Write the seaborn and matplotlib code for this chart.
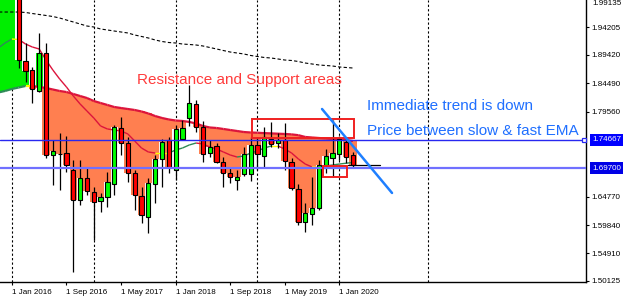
import numpy as np
import pandas as pd
import matplotlib
matplotlib.use("Agg")
import matplotlib.pyplot as plt
from matplotlib.patches import Rectangle
import seaborn as sns

# ---------------- data (monthly bars, month 0 = Jan 2016) ----------------
months = list(range(-2, 51))
open_ = [2.0700, 2.0650, 2.0500, 2.0156, 1.8835, 1.8679, 1.8314, 1.8974, 1.7202, 1.7219,
         1.7236, 1.6941, 1.6420, 1.6802, 1.6559, 1.6403, 1.6472, 1.6698, 1.7671, 1.7410,
         1.6889, 1.6489, 1.6124, 1.6698, 1.7132, 1.7462, 1.6941, 1.7480, 1.7845, 1.8088,
         1.7688, 1.7236, 1.7358, 1.7080, 1.6889, 1.6767, 1.6872, 1.6872, 1.7376, 1.7184,
         1.7480, 1.7410, 1.7462, 1.7080, 1.6611, 1.6038, 1.6177, 1.6281, 1.7028, 1.7150,
         1.7219, 1.7428, 1.7202]
high = [2.0900, 2.0800, 2.0700, 2.0329, 1.9148, 1.8731, 1.9322, 1.9148, 1.7462, 1.7584,
        1.7532, 1.7115, 1.7115, 1.6993, 1.6646, 1.6542, 1.6906, 1.7723, 1.7862, 1.7515,
        1.6941, 1.6646, 1.6802, 1.7202, 1.7480, 1.7515, 1.7723, 1.7810, 1.8418, 1.8157,
        1.7793, 1.7462, 1.7410, 1.7167, 1.6976, 1.6941, 1.7341, 1.7515, 1.7515, 1.7688,
        1.7776, 1.7584, 1.7758, 1.7150, 1.6698, 1.6368, 1.6820, 1.7115, 1.7306, 1.7810,
        1.7532, 1.7480, 1.7254]
low = [2.0400, 2.0300, 2.0000, 1.8713, 1.8470, 1.8105, 1.8296, 1.7150, 1.6680, 1.6594,
       1.6906, 1.5169, 1.6333, 1.6507, 1.5725, 1.6211, 1.6298, 1.6507, 1.7202, 1.6733,
       1.6246, 1.6020, 1.5846, 1.6368, 1.6646, 1.6889, 1.6767, 1.7462, 1.7706, 1.7601,
       1.7080, 1.7167, 1.7063, 1.6646, 1.6715, 1.6594, 1.6837, 1.6750, 1.6941, 1.6976,
       1.7341, 1.7323, 1.6941, 1.6594, 1.5985, 1.5864, 1.5985, 1.6246, 1.6889, 1.6820,
       1.7115, 1.7063, 1.6993]
close = [2.0650, 2.0500, 2.0156, 1.8852, 1.8661, 1.8349, 1.8974, 1.7202, 1.7271, 1.7211,
         1.7028, 1.6420, 1.6802, 1.6576, 1.6385, 1.6472, 1.6733, 1.7688, 1.7410, 1.6889,
         1.6507, 1.6159, 1.6715, 1.7132, 1.7428, 1.6993, 1.7654, 1.7671, 1.8105, 1.7688,
         1.7219, 1.7341, 1.7080, 1.6889, 1.6820, 1.6820, 1.7219, 1.7376, 1.7219, 1.7515,
         1.7393, 1.7462, 1.7097, 1.6628, 1.6038, 1.6194, 1.6281, 1.7028, 1.7184, 1.7236,
         1.7480, 1.7167, 1.7028]
slow_ema = [1.8288, 1.8314, 1.8349, 1.8375, 1.8401, 1.8401, 1.8383, 1.8366, 1.8340, 1.8314,
            1.8296, 1.8262, 1.8227, 1.8192, 1.8140, 1.8105, 1.8071, 1.8036, 1.8018, 1.8001,
            1.7984, 1.7958, 1.7923, 1.7879, 1.7845, 1.7819, 1.7801, 1.7793, 1.7776, 1.7749,
            1.7706, 1.7680, 1.7671, 1.7654, 1.7636, 1.7619, 1.7601, 1.7593, 1.7588, 1.7582,
            1.7577, 1.7572, 1.7567, 1.7560, 1.7546, 1.7515, 1.7506, 1.7497, 1.7489, 1.7480,
            1.7471, 1.7462, 1.7445]
fast_ema = [1.9061, 1.9148, 1.9217, 1.9209, 1.9130, 1.9078, 1.9044, 1.8852, 1.8679, 1.8522,
            1.8383, 1.8227, 1.8088, 1.7966, 1.7845, 1.7706, 1.7654, 1.7636, 1.7619, 1.7567,
            1.7445, 1.7323, 1.7254, 1.7236, 1.7236, 1.7236, 1.7289, 1.7323, 1.7376, 1.7410,
            1.7393, 1.7341, 1.7306, 1.7254, 1.7202, 1.7167, 1.7184, 1.7236, 1.7271, 1.7323,
            1.7358, 1.7358, 1.7306, 1.7236, 1.7132, 1.7045, 1.6993, 1.6984, 1.7011, 1.7028,
            1.7045, 1.7059, 1.7072]
long_ma = [1.9686, 1.9686, 1.9686, 1.9686, 1.9678, 1.9660, 1.9643, 1.9626, 1.9608, 1.9582,
           1.9547, 1.9513, 1.9478, 1.9443, 1.9426, 1.9391, 1.9374, 1.9356, 1.9339, 1.9322,
           1.9287, 1.9261, 1.9235, 1.9200, 1.9174, 1.9156, 1.9148, 1.9130, 1.9122, 1.9113,
           1.9096, 1.9070, 1.9044, 1.9017, 1.8991, 1.8974, 1.8957, 1.8931, 1.8913, 1.8896,
           1.8887, 1.8870, 1.8852, 1.8844, 1.8826, 1.8800, 1.8783, 1.8766, 1.8757, 1.8748,
           1.8731, 1.8722, 1.8713]

x_tick_months = [0, 8, 16, 24, 32, 40, 48]
x_tick_labels = ["1 Jan 2016", "1 Sep 2016", "1 May 2017", "1 Jan 2018",
                 "1 Sep 2018", "1 May 2019", "1 Jan 2020"]
grid_months = [0, 12, 24, 36, 48, 61]
y_ticks = [1.94205, 1.89420, 1.84490, 1.79560, 1.64770, 1.59840, 1.54910, 1.50125]
top_price_label = 1.99135
level_upper = 1.74667
level_lower = 1.69700

# annotations drawn by the analyst
resist_box = (35.2, 1.7497, 50.15, 1.7827)     # (m0, p0, m1, p1)
support_box = (45.6, 1.6820, 49.1, 1.7011)
trend_line = ((45.46, 1.8001), (55.72, 1.6542))
last_price_span = (49.2, 54.0)

title_red = "Resistance and Support areas"
note_1 = "Immediate trend is down"
note_2 = "Price between slow & fast EMA"

# ---------------- style ----------------
sns.set_theme(style="white")
plt.rcParams["font.family"] = ["Liberation Sans", "DejaVu Sans"]

GREEN_FILL = "#00EE00"
ORANGE_FILL = "#FF7F50"
LINE_RED = "#DC143C"
LINE_GREEN = "#2E8B57"
LINE_YELLOW = "#FFFF00"
BLUE_TXT = "#1F6FFF"

df = pd.DataFrame(dict(month=months, open=open_, high=high, low=low, close=close,
                       slow=slow_ema, fast=fast_ema, lma=long_ma))

fig = plt.figure(figsize=(6.25, 3.01), dpi=100)
fig.patch.set_facecolor("white")
ax = fig.add_axes([0, 19 / 301, 586 / 625, 282 / 301])
ax.set_facecolor("white")

# ---------------- histogram fill between slow EMA and close ----------------
below = df.close < df.slow
above = (df.close > df.slow) & (df.fast > df.slow)
ax.bar(df.month[below], (df.close - df.slow)[below], bottom=df.slow[below],
       width=1.04, color=ORANGE_FILL, linewidth=0, zorder=1)
ax.bar(df.month[above], (df.close - df.slow)[above], bottom=df.slow[above],
       width=1.04, color=GREEN_FILL, linewidth=0, zorder=1)

# ---------------- long moving average (dotted) ----------------
sns.lineplot(data=df, x="month", y="lma", ax=ax, color="black", linewidth=0.8,
             linestyle=(0, (3, 2)), zorder=2)


def colored_line(xs, ys, tol, lw, z):
    for i in range(len(xs) - 1):
        d = ys[i + 1] - ys[i]
        if d > tol:
            c = LINE_GREEN
        elif d < -tol:
            c = LINE_RED
        else:
            c = LINE_YELLOW
        ax.plot(xs[i:i + 2], ys[i:i + 2], color=c, lw=lw, zorder=z,
                solid_capstyle="butt")


colored_line(months, slow_ema, 0.0003, 1.6, 2.6)
colored_line(months, fast_ema, 0.0012, 1.0, 2.5)

# ---------------- candles ----------------
ax.vlines(df.month, df.low, df.high, color="black", lw=0.9, zorder=4)
up = df.close >= df.open
dn = ~up
ax.bar(df.month[up], (df.close - df.open)[up], bottom=df.open[up], width=0.62,
       color="#00FF00", edgecolor="black", linewidth=0.8, zorder=5)
ax.bar(df.month[dn], (df.close - df.open)[dn], bottom=df.open[dn], width=0.62,
       color="#FF0000", edgecolor="black", linewidth=0.8, zorder=5)

# ---------------- vertical dashed grid ----------------
for g in grid_months:
    ax.axvline(g, color="black", lw=0.8, linestyle=(0, (2, 2)), zorder=0.5)

# ---------------- horizontal levels ----------------
ax.axhline(level_upper, color="#2828F0", lw=1.0, zorder=6)
ax.axhline(level_lower, color="#7070FF", lw=1.6, zorder=6)
ax.plot([83.85], [level_upper], marker="s", ms=3.2, mfc="white", mec="#2828F0",
        mew=0.9, zorder=7, clip_on=False)

# last price short line
ax.plot(last_price_span, [close[-1], close[-1]], color="black", lw=0.9, zorder=6)

# ---------------- analyst drawings ----------------
for (m0, p0, m1, p1) in (resist_box, support_box):
    ax.add_patch(Rectangle((m0, p0), m1 - m0, p1 - p0, fill=False,
                           edgecolor="#F02020", lw=1.4, zorder=7))
(tx0, ty0), (tx1, ty1) = trend_line
ax.plot([tx0, tx1], [ty0, ty1], color="#1E7FFF", lw=1.8, zorder=7)

ax.text(18.34, 1.8430, title_red, color="#FF3B3B", fontsize=11, ha="left",
        va="baseline", zorder=8)
ax.text(52.05, 1.7990, note_1, color=BLUE_TXT, fontsize=11, ha="left",
        va="baseline", zorder=8)
ax.text(52.05, 1.7555, note_2, color=BLUE_TXT, fontsize=11, ha="left",
        va="baseline", zorder=8)

# ---------------- axes ----------------
ax.set_xlim(-1.744, 84.154)
ax.set_ylim(1.49951, 1.98949)
ax.set_xlabel("")
ax.set_ylabel("")
for s in ("left", "top"):
    ax.spines[s].set_visible(False)
for s in ("right", "bottom"):
    ax.spines[s].set_visible(True)
    ax.spines[s].set_color("black")
    ax.spines[s].set_linewidth(1.0)

ax.yaxis.tick_right()
ax.set_yticks(y_ticks)
ax.set_yticklabels([f"{v:.5f}" for v in y_ticks])
ax.set_xticks(x_tick_months)
ax.set_xticklabels(x_tick_labels)
for lab in ax.get_xticklabels():
    lab.set_ha("left")
ax.tick_params(axis="both", which="both", direction="out", length=2.2, width=0.8,
               color="black", labelsize=5.8, labelcolor="black")
ax.tick_params(axis="y", pad=2, right=True, left=False)
ax.tick_params(axis="x", pad=3, bottom=True)
ax.grid(False)

ytr = ax.get_yaxis_transform()
ax.text(1.0102, 0.999, f"{top_price_label:.5f}", transform=ax.transAxes, fontsize=5.8,
        color="black", ha="left", va="top", clip_on=False)
for lvl, fc in ((level_upper, "#0000FF"), (level_lower, "#0000E6")):
    ax.text(1.0102, lvl, f"{lvl:.5f}", transform=ytr, fontsize=5.8, color="white",
            ha="left", va="center", clip_on=False, zorder=9,
            bbox=dict(boxstyle="square,pad=0.3", fc=fc, ec="none"))

fig.savefig("out.png", dpi=100, facecolor="white")
